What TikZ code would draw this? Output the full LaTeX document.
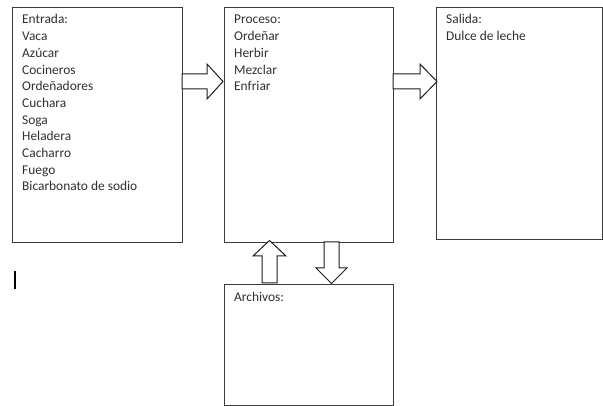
\documentclass[tikz,border=0pt]{standalone}
\usepackage{fontspec}
\setmainfont{Carlito}
\definecolor{boxgray}{HTML}{3C3C3C}
\definecolor{txtgray}{HTML}{303030}
\definecolor{arrowgray}{HTML}{1E1E1E}
\begin{document}
\begin{tikzpicture}[x=1pt,y=-1pt,
  box/.style={draw=boxgray, line width=0.9pt, inner sep=0pt, anchor=north west},
  itemtext/.style={anchor=base west, inner sep=0pt, text=txtgray,
    font=\fontsize{13.4}{16.7}\selectfont},
  blockarrow/.style={draw=arrowgray, line width=1pt, fill=white, line join=miter}]
\useasboundingbox (0,0) rectangle (603,406);
\fill[white] (0,0) rectangle (603,406);

% the four boxes
\node[box, minimum width=170pt, minimum height=235pt] (entrada) at (12,7) {};
\node[box, minimum width=169pt, minimum height=235pt] (proceso) at (224,7) {};
\node[box, minimum width=166pt, minimum height=232pt] (salida) at (436,7) {};
\node[box, minimum width=169pt, minimum height=121pt] (archivos) at (224,284) {};

% contents
\foreach \t [count=\i from 0] in {Entrada:,Vaca,Azúcar,Cocineros,Ordeñadores,Cuchara,Soga,Heladera,Cacharro,Fuego,Bicarbonato de sodio}
  \node[itemtext] (ent-\i) at (22,24+16.7*\i) {\t};
\foreach \t [count=\i from 0] in {Proceso:,Ordeñar,Herbir,Mezclar,Enfriar}
  \node[itemtext] (pro-\i) at (234,24+16.7*\i) {\t};
\foreach \t [count=\i from 0] in {Salida:,Dulce de leche}
  \node[itemtext] (sal-\i) at (446,24+16.7*\i) {\t};
\node[itemtext] (arc-0) at (234,302) {Archivos:};

% block arrows between the boxes
\draw[blockarrow] (182,74) -- (207,74) -- (207,64) -- (223,81.5) -- (207,99) -- (207,89) -- (182,89) -- cycle;
\draw[blockarrow] (393,74) -- (420,74) -- (420,64) -- (437,81.5) -- (420,99) -- (420,89) -- (393,89) -- cycle;
\draw[blockarrow] (262,283) -- (262,256) -- (253,256) -- (269.5,240.5) -- (286,256) -- (277,256) -- (277,283) -- cycle;
\draw[blockarrow] (324,242) -- (324,268) -- (316,268) -- (331.5,283.5) -- (347,268) -- (339,268) -- (339,242) -- cycle;

% text cursor
\draw[line width=1.2pt, black] (15,271) -- (15,289);
\end{tikzpicture}
\end{document}
